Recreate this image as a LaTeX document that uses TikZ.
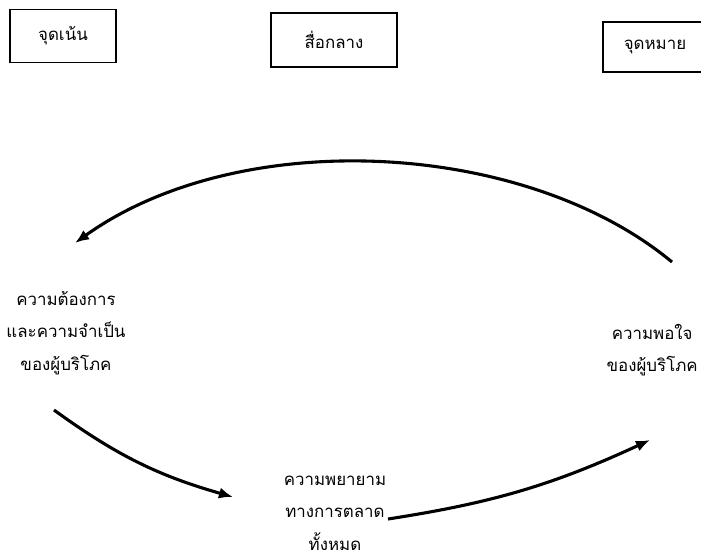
\documentclass[tikz,border=0pt]{standalone}
\usepackage{fontspec}
\newfontfamily\thaifont[Script=Thai]{Loma}
\usetikzlibrary{arrows.meta}

\begin{document}
\begin{tikzpicture}[x=0.025cm, y=-0.025cm,
  font=\thaifont\fontsize{12}{23}\selectfont,
  box/.style={draw, line width=0.9pt, inner sep=0pt},
  label/.style={align=center, inner sep=0pt},
  flow/.style={line width=2.2pt, -{Latex[length=10pt, width=8pt]}}]
  \useasboundingbox (0,0) rectangle (701,558);
  % Boxes
  \node[box, minimum width=2.65cm, minimum height=1.33cm] (focus) at (63,36) {จุดเน้น};
  \node[box, minimum width=3.15cm, minimum height=1.35cm] (medium) at (334,40) {สื่อกลาง};
  \node[box, minimum width=2.6cm, minimum height=1.25cm] (goal) at (655,47) {จุดหมาย};
  % Texts
  \node[label] (need) at (66,333) {ความต้องการ\\และความจำเป็น\\ของผู้บริโภค};
  \node[label, anchor=east] (satisfy) at (698,350) {ความพอใจ\\ของผู้บริโภค};
  \node[label] (effort) at (335,513) {ความพยายาม\\ทางการตลาด\\ทั้งหมด};
  % Arrows
  \coordinate (topstart) at (672,262);
  \coordinate (topend) at (75,243);
  \coordinate (lowstart) at (54,410);
  \coordinate (lowend) at (233,497);
  \coordinate (rightstart) at (388,519);
  \coordinate (rightend) at (650,440);
  \draw[flow] (topstart) .. controls (525,140) and (240,125) .. (topend);
  \draw[flow] (lowstart) to[bend right=10] (lowend);
  \draw[flow] (rightstart) to[bend right=8] (rightend);
\end{tikzpicture}
\end{document}
